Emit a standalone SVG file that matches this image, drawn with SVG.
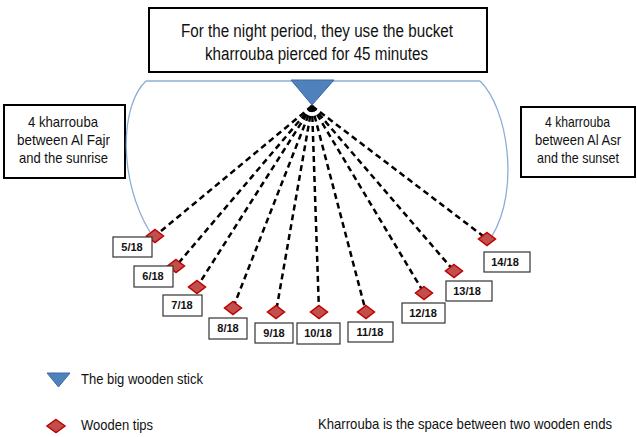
<svg xmlns="http://www.w3.org/2000/svg" width="637" height="437" viewBox="0 0 637 437">
<defs>
<style>
.box{fill:#fff;stroke:#000;stroke-width:2}
.lbl{fill:#fff;stroke:#333;stroke-width:1.2}
.t{font-family:"Liberation Sans",Arial,sans-serif;fill:#111}
.big{font-size:18px}
.mid{font-size:15px}
.sm{font-size:11px;font-weight:bold;text-anchor:middle}
.tip{fill:#C0504D;stroke:#C00000;stroke-width:1.5}
.stick{fill:#4F81BD;stroke:#3C6AA3;stroke-width:1}
.dash{stroke:#000;stroke-width:2.5;stroke-dasharray:6 4;fill:none}
.arc{stroke:#8EADD4;stroke-width:1.3;fill:none}
</style>
</defs>
<rect width="637" height="437" fill="#fff"/>

<g id="title">
<rect class="box" x="149" y="8" width="338" height="64"/>
<text class="t big" x="181" y="37" textLength="272" lengthAdjust="spacingAndGlyphs">For the night period, they use the bucket</text>
<text class="t big" x="205" y="60" textLength="223" lengthAdjust="spacingAndGlyphs">kharrouba pierced for 45 minutes</text>
</g>

<g id="left-note">
<rect class="box" x="4" y="105" width="121" height="73"/>
<text class="t mid" x="28" y="127" textLength="70" lengthAdjust="spacingAndGlyphs">4 kharrouba</text>
<text class="t mid" x="17" y="145" textLength="93" lengthAdjust="spacingAndGlyphs">between Al Fajr</text>
<text class="t mid" x="19" y="163" textLength="89" lengthAdjust="spacingAndGlyphs">and the sunrise</text>
</g>

<g id="right-note">
<rect class="box" x="521" y="107" width="114" height="70"/>
<text class="t mid" x="545" y="127" textLength="65" lengthAdjust="spacingAndGlyphs">4 kharrouba</text>
<text class="t mid" x="535" y="145" textLength="86" lengthAdjust="spacingAndGlyphs">between Al Asr</text>
<text class="t mid" x="537" y="163" textLength="82" lengthAdjust="spacingAndGlyphs">and the sunset</text>
</g>

<g id="connectors">
<path class="arc" d="M146,81 H480"/>
<path class="arc" d="M146,81 C120,105 118,180 150,232"/>
<path class="arc" d="M480,81 C508,108 520,190 492,236"/>
<line class="dash" x1="312" y1="106" x2="155" y2="236"/>
<line class="dash" x1="312" y1="106" x2="176" y2="266"/>
<line class="dash" x1="312" y1="106" x2="197" y2="287"/>
<line class="dash" x1="312" y1="106" x2="233" y2="308"/>
<line class="dash" x1="312" y1="106" x2="276" y2="312"/>
<line class="dash" x1="312" y1="106" x2="319" y2="312"/>
<line class="dash" x1="312" y1="106" x2="366" y2="312"/>
<line class="dash" x1="312" y1="106" x2="424" y2="293"/>
<line class="dash" x1="312" y1="106" x2="454" y2="271"/>
<line class="dash" x1="312" y1="106" x2="487" y2="239"/>
</g>

<g id="stick">
<polygon class="stick" points="291,80 334,80 312,105"/>
</g>

<g id="tip-5"><polygon class="tip" points="155,229.5 163.5,236 155,242.5 146.5,236"/><rect class="lbl" x="113" y="237" width="39" height="20"/><text class="t sm" x="132" y="251">5/18</text></g>
<g id="tip-6"><polygon class="tip" points="176,259.5 184.5,266 176,272.5 167.5,266"/><rect class="lbl" x="134" y="266" width="39" height="21"/><text class="t sm" x="153" y="280">6/18</text></g>
<g id="tip-7"><polygon class="tip" points="197,280.5 205.5,287 197,293.5 188.5,287"/><rect class="lbl" x="163" y="295" width="39" height="21"/><text class="t sm" x="182" y="309">7/18</text></g>
<g id="tip-8"><polygon class="tip" points="233,301.5 241.5,308 233,314.5 224.5,308"/><rect class="lbl" x="209" y="318" width="38" height="21"/><text class="t sm" x="228" y="332">8/18</text></g>
<g id="tip-9"><polygon class="tip" points="276,305.5 284.5,312 276,318.5 267.5,312"/><rect class="lbl" x="255" y="323" width="38" height="20"/><text class="t sm" x="274" y="337">9/18</text></g>
<g id="tip-10"><polygon class="tip" points="319,305.5 327.5,312 319,318.5 310.5,312"/><rect class="lbl" x="297" y="323" width="43" height="21"/><text class="t sm" x="318" y="337">10/18</text></g>
<g id="tip-11"><polygon class="tip" points="366,305.5 374.5,312 366,318.5 357.5,312"/><rect class="lbl" x="348" y="322" width="45" height="20"/><text class="t sm" x="370" y="336">11/18</text></g>
<g id="tip-12"><polygon class="tip" points="424,286.5 432.5,293 424,299.5 415.5,293"/><rect class="lbl" x="402" y="303" width="43" height="20"/><text class="t sm" x="423" y="317">12/18</text></g>
<g id="tip-13"><polygon class="tip" points="454,264.5 462.5,271 454,277.5 445.5,271"/><rect class="lbl" x="446" y="281" width="46" height="20"/><text class="t sm" x="467" y="295">13/18</text></g>
<g id="tip-14"><polygon class="tip" points="487,232.5 495.5,239 487,245.5 478.5,239"/><rect class="lbl" x="484" y="252" width="46" height="20"/><text class="t sm" x="505" y="266">14/18</text></g>

<g id="legend">
<polygon class="stick" points="47,373 70,373 58.5,387"/>
<text class="t mid" x="81" y="384" textLength="122" lengthAdjust="spacingAndGlyphs">The big wooden stick</text>
<polygon class="tip" points="56,419.5 65,426 56,432.5 47,426"/>
<text class="t mid" x="81" y="430" textLength="72" lengthAdjust="spacingAndGlyphs">Wooden tips</text>
<text class="t mid" x="318" y="429" textLength="294" lengthAdjust="spacingAndGlyphs">Kharrouba is the space between two wooden ends</text>
</g>
</svg>
